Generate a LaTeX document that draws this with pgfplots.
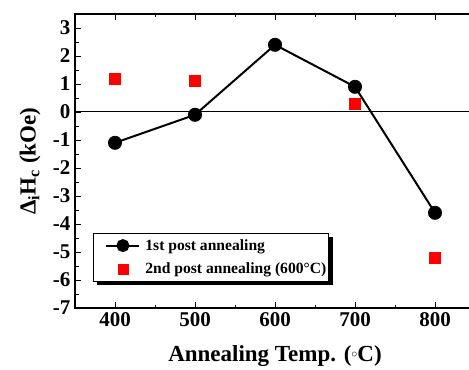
\documentclass[border=0pt]{standalone}
\usepackage{pgfplots}
\pgfplotsset{compat=1.18}
\usepackage{fontspec}
\setmainfont{Liberation Serif}
\begin{document}
\begin{tikzpicture}
\begin{axis}[
  scale only axis, width=400pt, height=294pt,
  xmin=350, xmax=850, ymin=-7, ymax=3.5,
  xtick={400,500,600,700,800}, minor x tick num=1,
  ytick={-7,-6,-5,-4,-3,-2,-1,0,1,2,3}, minor y tick num=1,
  tick align=inside, major tick length=6pt, minor tick length=3.5pt,
  tick style={black, line width=0.9pt},
  axis line style={line width=1.2pt},
  /pgf/number format/assume math mode=true,
  ticklabel style={font=\fontsize{21}{21}\selectfont\bfseries},
  xticklabel style={yshift=-1pt},
  yticklabel style={xshift=-1pt},
  xlabel={Annealing Temp. (\raisebox{0.35ex}{\fontsize{13}{13}\selectfont$\circ$}C)},
  ylabel={Δ\textsubscript{i}H\textsubscript{c} (kOe)},
  label style={font=\fontsize{23}{23}\selectfont\bfseries},
  xlabel style={at={(axis description cs:0.5,-0.163)}, anchor=center},
  ylabel style={at={(axis description cs:-0.1125,0.5)}, anchor=center},
  extra y ticks={0}, extra y tick labels={},
  extra y tick style={grid=major, major grid style={black, line width=1pt}},
  legend style={at={(axis description cs:0.045,0.255)}, anchor=north west,
    name=leg,
    font=\fontsize{15.6}{17}\selectfont\bfseries, draw=black, line width=0.8pt,
    fill=white, inner xsep=1pt, inner ysep=5pt, row sep=9pt,
    nodes={inner sep=1pt}},
  legend cell align=left,
]
\coordinate (sw) at (rel axis cs:0,0);
\coordinate (ne) at (rel axis cs:1,1);
\addplot[black, line width=2pt, mark=*, mark size=6pt, mark options={solid},
  legend image code/.code={
    \path[draw=none, fill=none] (-12pt,0pt) -- (38pt,0pt);
    \draw[black, line width=2pt] (0pt,0pt) -- (33pt,0pt);
    \fill[black] (16.5pt,0pt) circle (5.5pt);}]
  coordinates {(400,-1.1) (500,-0.1) (600,2.4) (700,0.9) (800,-3.6)};
\addlegendentry{1st post annealing}
\addplot[only marks, mark=square*, mark size=5.5pt, color=red,
  legend image code/.code={
    \path[draw=none, fill=none] (-12pt,0pt) -- (38pt,0pt);
    \fill[red] (11.5pt,-5pt) rectangle (21.5pt,5pt);}]
  coordinates {(400,1.2) (500,1.1) (700,0.3) (800,-5.2)};
\addlegendentry{2nd post annealing (600°C)}
\end{axis}
\fill[black] ([xshift=4pt]leg.south west) rectangle ([shift={(4pt,-4pt)}]leg.south east);
\fill[black] (leg.south east) rectangle ([shift={(4pt,-4pt)}]leg.north east);
\pgfresetboundingbox
\path ([shift={(-75pt,-61pt)}]sw) rectangle ([shift={(-6pt,14pt)}]ne);
\end{tikzpicture}
\end{document}
